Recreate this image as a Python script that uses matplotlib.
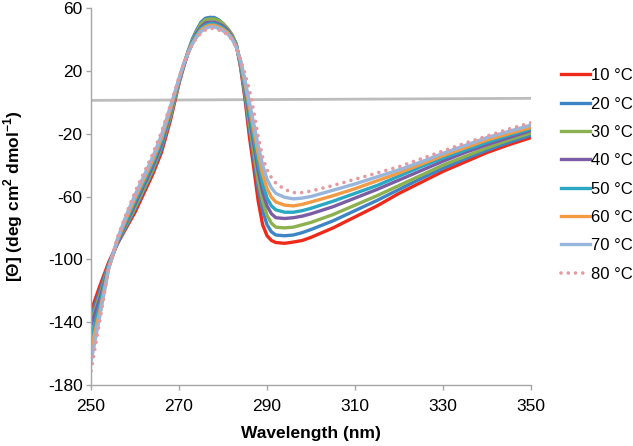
import numpy as np
import matplotlib
matplotlib.use("Agg")
import matplotlib.pyplot as plt

plt.rcParams['font.family'] = ['Liberation Sans', 'DejaVu Sans']
plt.rcParams['axes.unicode_minus'] = False

# wavelength grid (nm)
wavelength = [250, 252, 254, 256, 258, 260, 262, 264, 266, 268,
              270, 271, 272, 273, 274, 275, 276, 277, 278, 279, 280, 281,
              282, 283, 284, 285, 286, 287, 288, 289, 290, 291, 292,
              294, 296, 298, 300, 305, 310, 315, 320, 325, 330, 335, 340, 345, 350]

t10 = [-133, -117, -102, -90, -80, -70, -58, -46, -32, -12,
       12, 22, 31, 39, 45, 50, 53, 54, 53.5, 52, 50, 47,
       43, 37, 22, 2, -22, -42, -63, -78, -85, -88, -89.3,
       -89.8, -89, -88, -86, -80, -73, -66, -58, -51, -44, -38, -32, -27, -22.5]
t20 = [-137, -120, -103, -90, -79, -68, -56, -44, -30, -10,
       13, 23, 32, 40, 46, 51, 53.5, 54, 54, 52.5, 50, 47,
       43, 37, 23, 4, -17, -36, -55, -69, -78, -82.5, -84.5,
       -85, -84.5, -83, -81, -75.5, -69, -62.5, -55.5, -48.5, -42, -36, -30.5, -25.5, -21]
t30 = [-140, -123, -104, -89, -78, -67, -55, -43, -28, -9,
       13, 23, 32, 39, 45, 50, 52.5, 53, 53, 52, 50, 47,
       43, 37, 24, 6, -14, -32, -50, -63, -72, -77, -79.5,
       -80, -79.5, -78, -76.5, -71.5, -65.5, -59.5, -53, -46.5, -40, -34.5, -29, -24, -19.5]
t40 = [-142, -125, -105, -89, -77, -65, -53, -41, -27, -7,
       14, 23, 31, 38, 44, 48, 50.5, 51, 51, 50, 48.5, 46,
       42, 36, 25, 8, -10, -27, -44, -57, -66, -71, -73.5,
       -74, -73.5, -72.5, -71, -66.5, -61, -55.5, -49.5, -43.5, -37.5, -32, -27, -22.5, -18]
t50 = [-150, -129, -105, -88, -76, -63, -51, -39, -25, -6,
       14, 23, 31, 38, 43, 47, 49, 50, 50, 49, 47.5, 45,
       41.5, 36, 25, 10, -7, -23, -39, -52, -61, -66, -68.5,
       -70, -70, -69, -67.5, -63, -58, -53, -47, -41, -35.5, -30.5, -25.5, -21, -17]
t60 = [-157, -133, -106, -88, -74, -61, -49, -37, -23, -5,
       15, 24, 31, 37, 42, 46, 48, 49, 49, 48, 46.5, 44.5,
       41, 35.5, 26, 12, -3, -18, -33, -46, -55, -60.5, -63.5,
       -65.5, -66, -65, -63.5, -59.5, -55, -50, -45, -39.5, -34, -29, -24, -20, -16]
t70 = [-165, -136, -106, -87, -72, -59, -47, -35, -21, -3,
       15, 24, 31, 37, 41.5, 45, 47, 48, 48, 47, 45.5, 43.5,
       40.5, 35, 26.5, 14, 0, -14, -28, -40, -49, -54.5, -58,
       -60.5, -61.5, -61, -60, -56, -52, -47.5, -43, -38, -32.5, -27.5, -22.5, -18.5, -14.5]
t80 = [-171, -139, -106, -86, -71, -57, -45, -33, -19, -2,
       16, 24, 31, 37, 41, 44, 46, 47, 47, 46, 45, 43,
       40, 35, 27, 18, 8, -6, -22, -35, -43, -48, -51.5,
       -55.5, -57.5, -57.5, -56.5, -53, -49, -45, -41, -36, -31, -26, -21.5, -17, -13]

series = [t10, t20, t30, t40, t50, t60, t70, t80]
labels = ['10 °C', '20 °C', '30 °C', '40 °C', '50 °C', '60 °C', '70 °C', '80 °C']
colors = ['#EE2A1B', '#3D85C4', '#8DB050', '#7A5DA4', '#2AA7C3', '#F39A45', '#98B5DC', '#E49A9E']

# flat baseline drawn in grey
base_x = [250, 350]
base_y = [1.2, 2.5]

fig = plt.figure(figsize=(6.33, 4.46), dpi=100)
ax = fig.add_axes([0.1438, 0.1368, 0.6951, 0.8452])

ax.plot(base_x, base_y, color='#BDBDBD', lw=2.0, zorder=1)
for ys, lab, c in zip(series, labels, colors):
    if lab == '80 °C':
        ax.plot(wavelength, ys, color=c, lw=2.6, ls=(0, (0.01, 2.0)),
                dash_capstyle='round', label=lab, zorder=2)
    else:
        ax.plot(wavelength, ys, color=c, lw=2.4, label=lab, zorder=2)

ax.set_xlim(250, 350)
ax.set_ylim(-180, 60)
ax.set_xticks(np.arange(250, 351, 20))
ax.set_yticks(np.arange(-180, 61, 40))

for s in ['top', 'right']:
    ax.spines[s].set_visible(False)
for s in ['left', 'bottom']:
    ax.spines[s].set_color('#A6A6A6')
    ax.spines[s].set_linewidth(1.0)
ax.tick_params(axis='both', colors='#A6A6A6', labelcolor='black',
               labelsize=12.5, length=3.6, width=1.0, direction='out')
ax.tick_params(axis='x', pad=6.5)
ax.tick_params(axis='y', pad=2.5)

ax.set_xlabel('Wavelength (nm)', fontsize=12.5, fontweight='bold')
ax.set_ylabel('[Θ] (deg cm$^{\\mathregular{2}}$ dmol$^{\\mathregular{-1}}$)',
              fontsize=12.5, fontweight='bold')
ax.xaxis.set_label_coords(0.5, -0.108)
ax.yaxis.set_label_coords(-0.15, 0.5)

leg = ax.legend(loc='upper left', bbox_to_anchor=(0.875, 0.862),
                bbox_transform=fig.transFigure, frameon=False, fontsize=12,
                handlelength=1.75, handletextpad=0.1, labelspacing=0.8,
                borderaxespad=0)

fig.savefig('out.png', dpi=100)
